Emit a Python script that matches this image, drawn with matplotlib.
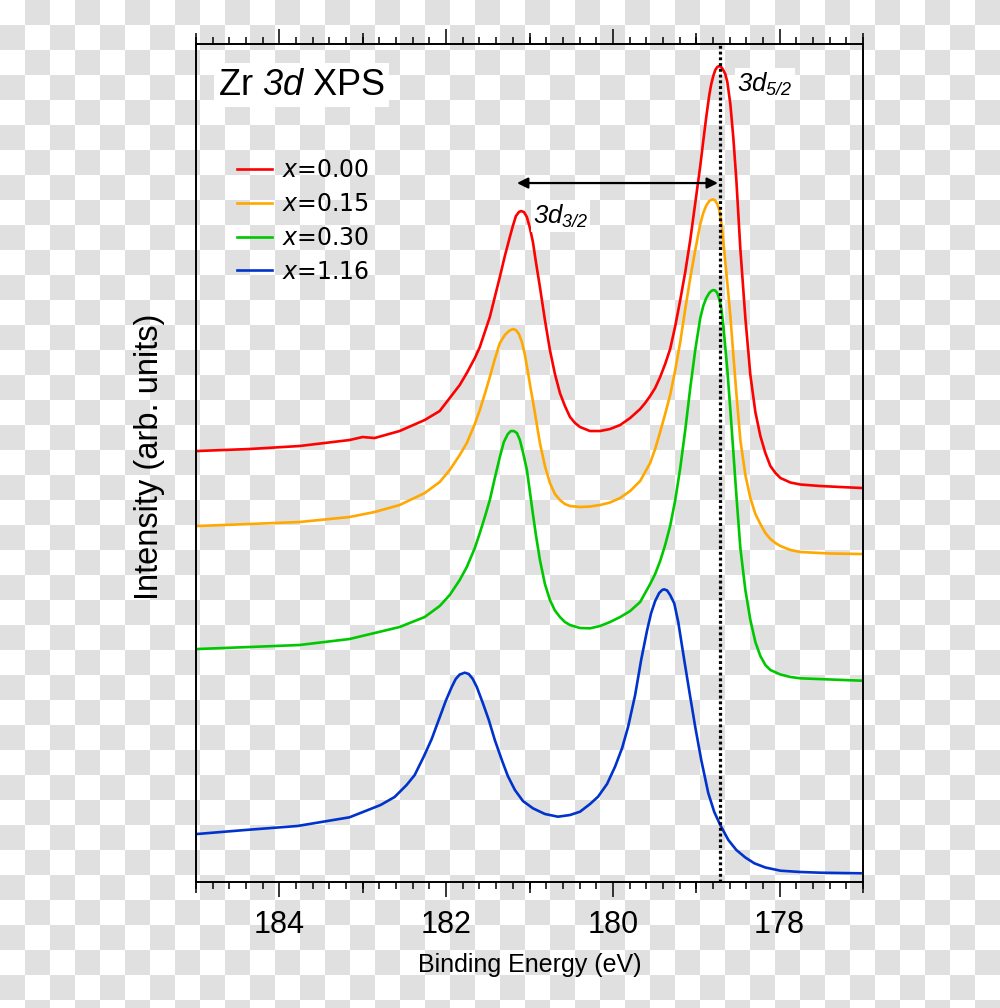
import numpy as np
import matplotlib
matplotlib.use("Agg")
import matplotlib.pyplot as plt
from matplotlib.ticker import MultipleLocator
from matplotlib.font_manager import FontProperties

# ---------------- data ----------------
red_e = [184.986, 184.361, 183.760, 183.459, 183.159, 183.002, 182.858, 182.558, 182.257, 182.077,
         181.957, 181.837, 181.752, 181.656, 181.596, 181.536, 181.476, 181.416, 181.356, 181.296,
         181.236, 181.200, 181.163, 181.127, 181.103, 181.067, 181.031, 180.995, 180.959, 180.923,
         180.875, 180.815, 180.755, 180.695, 180.635, 180.575, 180.514, 180.454, 180.394, 180.274,
         180.154, 180.034, 179.913, 179.793, 179.673, 179.613, 179.553, 179.493, 179.433, 179.373,
         179.313, 179.252, 179.192, 179.132, 179.072, 179.012, 178.952, 178.916, 178.880, 178.844,
         178.820, 178.796, 178.772, 178.748, 178.724, 178.700, 178.676, 178.652, 178.627, 178.591,
         178.555, 178.519, 178.471, 178.411, 178.351, 178.291, 178.231, 178.171, 178.111, 178.050,
         177.990, 177.870, 177.750, 177.510, 177.269, 177.005]
red_i = [4.31, 4.33, 4.36, 4.39, 4.42, 4.45, 4.44, 4.51, 4.62, 4.71,
         4.84, 4.97, 5.09, 5.24, 5.35, 5.50, 5.65, 5.85, 6.05, 6.26,
         6.45, 6.56, 6.66, 6.70, 6.71, 6.70, 6.65, 6.54, 6.40, 6.20,
         5.95, 5.62, 5.32, 5.08, 4.89, 4.76, 4.65, 4.59, 4.55, 4.51,
         4.51, 4.53, 4.57, 4.64, 4.73, 4.79, 4.86, 4.94, 5.05, 5.18,
         5.33, 5.56, 5.82, 6.10, 6.42, 6.79, 7.16, 7.41, 7.65, 7.87,
         7.98, 8.06, 8.12, 8.15, 8.16, 8.15, 8.12, 8.08, 8.00, 7.78,
         7.44, 7.02, 6.33, 5.64, 5.07, 4.70, 4.46, 4.29, 4.16, 4.09,
         4.04, 3.995, 3.975, 3.96, 3.95, 3.94]

orange_e = [184.986, 184.361, 183.760, 183.159, 182.858, 182.558, 182.257, 182.077, 181.957, 181.837,
            181.752, 181.656, 181.596, 181.536, 181.476, 181.416, 181.356, 181.296, 181.248, 181.200,
            181.163, 181.127, 181.091, 181.055, 181.019, 180.983, 180.947, 180.911, 180.875, 180.815,
            180.755, 180.695, 180.635, 180.575, 180.514, 180.394, 180.274, 180.154, 180.034, 179.913,
            179.793, 179.673, 179.553, 179.493, 179.433, 179.373, 179.313, 179.252, 179.192, 179.132,
            179.072, 179.012, 178.952, 178.916, 178.880, 178.844, 178.820, 178.796, 178.772, 178.748,
            178.724, 178.700, 178.676, 178.652, 178.627, 178.591, 178.555, 178.519, 178.471, 178.411,
            178.351, 178.291, 178.231, 178.171, 178.111, 178.050, 177.990, 177.870, 177.750, 177.389,
            177.005]
orange_i = [3.56, 3.58, 3.60, 3.65, 3.70, 3.77, 3.89, 4.00, 4.12, 4.27,
            4.39, 4.58, 4.72, 4.88, 5.05, 5.23, 5.39, 5.47, 5.51, 5.53,
            5.52, 5.48, 5.40, 5.27, 5.10, 4.92, 4.75, 4.57, 4.39, 4.16,
            3.99, 3.88, 3.82, 3.78, 3.76, 3.75, 3.755, 3.77, 3.795, 3.84,
            3.91, 4.01, 4.19, 4.33, 4.50, 4.68, 4.87, 5.12, 5.40, 5.73,
            6.04, 6.32, 6.58, 6.69, 6.765, 6.81, 6.822, 6.826, 6.815, 6.78,
            6.72, 6.60, 6.41, 6.20, 5.99, 5.66, 5.27, 4.89, 4.42, 4.07,
            3.84, 3.68, 3.58, 3.49, 3.43, 3.39, 3.36, 3.32, 3.30, 3.285,
            3.28]

green_e = [184.986, 184.361, 183.760, 183.459, 183.159, 182.858, 182.558, 182.257, 182.077, 181.957,
           181.837, 181.752, 181.656, 181.596, 181.536, 181.476, 181.416, 181.356, 181.308, 181.260,
           181.224, 181.188, 181.151, 181.115, 181.079, 181.031, 180.995, 180.959, 180.923, 180.875,
           180.815, 180.755, 180.695, 180.635, 180.575, 180.514, 180.394, 180.274, 180.154, 180.034,
           179.913, 179.793, 179.673, 179.553, 179.493, 179.433, 179.373, 179.313, 179.252, 179.192,
           179.132, 179.072, 179.012, 178.952, 178.916, 178.880, 178.844, 178.820, 178.796, 178.772,
           178.748, 178.724, 178.700, 178.676, 178.652, 178.627, 178.591, 178.555, 178.519, 178.471,
           178.411, 178.351, 178.291, 178.231, 178.171, 178.111, 177.990, 177.870, 177.750, 177.389,
           177.005]
green_i = [2.33, 2.35, 2.37, 2.40, 2.43, 2.49, 2.55, 2.65, 2.76, 2.87,
           3.02, 3.15, 3.34, 3.49, 3.65, 3.82, 4.04, 4.25, 4.40, 4.48,
           4.51, 4.51, 4.49, 4.42, 4.30, 4.12, 3.90, 3.68, 3.47, 3.22,
           2.98, 2.82, 2.715, 2.65, 2.60, 2.57, 2.54, 2.537, 2.56, 2.60,
           2.65, 2.71, 2.80, 2.98, 3.08, 3.21, 3.37, 3.56, 3.82, 4.14,
           4.52, 4.94, 5.32, 5.64, 5.76, 5.84, 5.89, 5.91, 5.92, 5.915,
           5.89, 5.83, 5.74, 5.57, 5.35, 5.12, 4.72, 4.30, 3.87, 3.34,
           2.92, 2.62, 2.40, 2.26, 2.17, 2.12, 2.075, 2.05, 2.037, 2.025,
           2.013]

blue_e = [184.986, 184.409, 183.784, 183.159, 182.786, 182.618, 182.474, 182.377, 182.269, 182.173,
          182.089, 182.005, 181.933, 181.885, 181.837, 181.776, 181.728, 181.680, 181.632, 181.560,
          181.488, 181.416, 181.332, 181.260, 181.175, 181.079, 180.959, 180.815, 180.659, 180.514,
          180.394, 180.274, 180.178, 180.070, 179.974, 179.889, 179.817, 179.733, 179.661, 179.589,
          179.541, 179.493, 179.445, 179.409, 179.385, 179.349, 179.313, 179.264, 179.216, 179.144,
          179.072, 179.012, 178.940, 178.856, 178.784, 178.712, 178.615, 178.519, 178.411, 178.303,
          178.171, 177.990, 177.750, 177.510, 177.029]
blue_i = [0.48, 0.52, 0.56, 0.647, 0.77, 0.85, 0.97, 1.07, 1.253, 1.43,
          1.62, 1.81, 1.95, 2.03, 2.075, 2.093, 2.08, 2.03, 1.95, 1.79,
          1.62, 1.42, 1.22, 1.06, 0.92, 0.81, 0.737, 0.68, 0.653, 0.67,
          0.703, 0.78, 0.853, 0.98, 1.153, 1.34, 1.553, 1.87, 2.22, 2.52,
          2.69, 2.81, 2.89, 2.92, 2.927, 2.915, 2.87, 2.787, 2.60, 2.22,
          1.85, 1.55, 1.22, 0.89, 0.70, 0.57, 0.42, 0.32, 0.245, 0.187,
          0.145, 0.113, 0.10, 0.093, 0.087]

labels = ["0.00", "0.15", "0.30", "1.16"]
colors = ["#ff0000", "#ffa800", "#00c800", "#0033cc"]

peak_52 = 178.72          # 3d5/2 reference position (dotted line)
peak_32 = 181.15          # 3d3/2 arrow end
arrow_level = 6.99
x_min, x_max = 177.0, 185.0
y_min, y_max = 0.0, 8.38

# ---------------- styling ----------------
plt.rcParams["mathtext.fontset"] = "custom"
plt.rcParams["mathtext.rm"] = "Liberation Sans:italic"
plt.rcParams["mathtext.it"] = "Liberation Sans:italic"
plt.rcParams["mathtext.bf"] = "Liberation Sans:bold"
plt.rcParams["font.family"] = ["Liberation Sans", "DejaVu Sans"]

fig = plt.figure(figsize=(10.0, 10.08), dpi=100)
fig.patch.set_alpha(0)

# checkerboard "transparency" background
H, W = 1008, 1000
rr, cc = np.indices((H, W))
chk = ((rr // 25 + cc // 25) % 2).astype(float)
val = np.where(chk == 1, 224 / 255, 1.0)
bg = np.dstack([val, val, val])
fig.figimage(bg, xo=0, yo=0, origin="upper", zorder=-10)

ax = fig.add_axes([0.196, 0.125, 0.667, 0.8313])
ax.set_facecolor("none")

series = [(red_e, red_i), (orange_e, orange_i), (green_e, green_i), (blue_e, blue_i)]
for (e, i), lab, col in zip(series, labels, colors):
    ax.plot(e, i, color=col, lw=1.9, label=r"$x$=" + lab, solid_joinstyle="round")

ax.axvline(peak_52, color="black", lw=2.3, linestyle=(0, (0.9, 0.9)), zorder=5)

ax.annotate("", xy=(peak_52 + 0.02, arrow_level), xytext=(peak_32, arrow_level),
            arrowprops=dict(arrowstyle="<|-|>", color="black", lw=1.6,
                            mutation_scale=16, shrinkA=0, shrinkB=0))

ax.text(180.96, 6.66, r"$3d_{3/2}$", fontsize=18.5, ha="left", va="center",
        bbox=dict(facecolor="white", edgecolor="none", pad=1.5))
ax.text(178.51, 7.98, r"$3d_{5/2}$", fontsize=18.5, ha="left", va="center",
        bbox=dict(facecolor="white", edgecolor="none", pad=1.5))

ax.text(0.033, 0.951, r"Zr $3d$ XPS", transform=ax.transAxes, fontsize=26,
        ha="left", va="center",
        bbox=dict(facecolor="white", edgecolor="none", pad=3))

ax.set_xlim(x_max, x_min)
ax.set_ylim(y_min, y_max)
ax.set_yticks([])

ax.xaxis.set_major_locator(MultipleLocator(2))
ax.xaxis.set_minor_locator(MultipleLocator(0.2))
ax.tick_params(axis="x", which="both", direction="out", top=True, bottom=True,
               labeltop=False, width=1.1, labelsize=22, pad=9.2)
ax.tick_params(axis="x", which="major", length=10.8)
ax.tick_params(axis="x", which="minor", length=5)

for loc in ["bottom", "top"]:
    sec = ax.secondary_xaxis(loc)
    sec.set_xticks([185, 183, 181, 179, 177])
    sec.tick_params(axis="x", direction="out", length=8, width=1.1,
                    labelbottom=False, labeltop=False)
    sec.spines[loc].set_visible(False)

for s in ax.spines.values():
    s.set_linewidth(1.4)

ax.set_xlabel("Binding Energy (eV)", fontsize=18, labelpad=9.5)
ax.set_ylabel("Intensity (arb. units)", fontsize=23.5)
ax.yaxis.set_label_coords(-0.0465, 0.507)

leg_prop = FontProperties(family="DejaVu Sans", size=17, math_fontfamily="dejavusans")
ax.legend(loc="upper left", bbox_to_anchor=(0.0615, 0.864), frameon=False, prop=leg_prop,
          borderpad=0, borderaxespad=0, handlelength=1.48, handletextpad=0.42,
          labelspacing=0.42)

fig.savefig("out.png", dpi=100)
